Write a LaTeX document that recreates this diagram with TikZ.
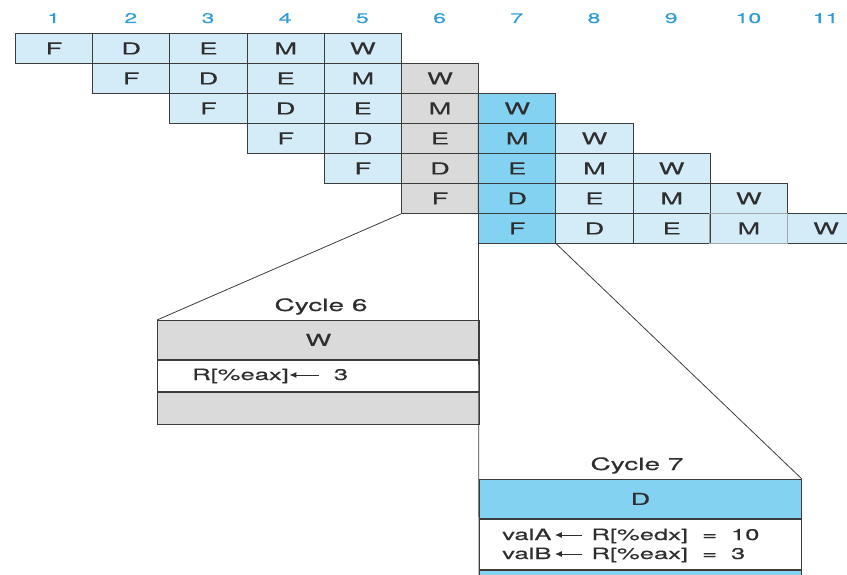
\documentclass[tikz,border=0pt]{standalone}
\usepackage{fontspec}
\setmainfont{TeX Gyre Heros}[FakeStretch=1.65,FakeBold=0.3]
\usetikzlibrary{arrows.meta}

\definecolor{cellblue}{HTML}{D4ECF8}
\definecolor{hotblue}{HTML}{84D2F2}
\definecolor{cellgray}{HTML}{DADADA}
\definecolor{numblue}{HTML}{2E9CD6}
\definecolor{edge}{HTML}{3C3C3C}
\definecolor{softedge}{HTML}{A0A8AC}
\definecolor{ink}{HTML}{2E2E2E}

% left-pointing assignment arrow used inside the stage boxes
\newcommand{\assignarrow}[1][25pt]{\tikz[baseline=-5pt]\draw[ink,line width=1pt,{Latex[length=7pt,width=6pt]}-](0pt,0pt)--(#1,0pt);}

\begin{document}
\begin{tikzpicture}[x=1pt,y=-1pt,
  stage/.style={draw=edge,line width=0.9pt,minimum width=77.2pt,minimum height=30pt,
    inner sep=0pt,font=\fontsize{16.5}{16.5}\selectfont,text=ink,anchor=north west},
  cyclenum/.style={font=\fontsize{14}{14}\selectfont,text=numblue,anchor=base,inner sep=0pt},
  caption/.style={font=\fontsize{17}{17}\selectfont,text=ink,anchor=base,inner sep=0pt},
  band/.style={draw=edge,line width=0.9pt,minimum width=322pt,inner sep=0pt,
    anchor=north west,font=\fontsize{16.5}{16.5}\selectfont,text=ink},
  body/.style={text=ink,anchor=base west,inner sep=0pt},
  link/.style={draw=edge,line width=0.8pt}]
\useasboundingbox (0,0) rectangle (847,575);

% clock cycle numbers
\foreach \c in {1,...,11}
  \node[cyclenum] (n-\c) at ({15+(\c-0.5)*77.2},23) {\c};

% pipeline stages of the seven instructions
\foreach \r in {1,...,7}{
  \foreach \s [count=\i from 0] in {F,D,E,M,W}{
    \pgfmathtruncatemacro{\c}{\r+\i}
    \ifnum\c=6 \def\fc{cellgray}\else\ifnum\c=7 \def\fc{hotblue}\else\def\fc{cellblue}\fi\fi
    \node[stage,fill=\fc] (c-\r-\c) at ({15+(\c-1)*77.2},{33+(\r-1)*30}) {\s};
  }
}
\draw[softedge,line width=0.9pt] (c-7-10.north west) rectangle (c-7-10.south east);

% cycle 6 detail
\node[caption] (cap6) at (321,311) {Cycle 6};
\node[band,fill=cellgray,minimum height=39pt] (w6) at (157,320) {W};
\node[band,fill=white,minimum height=31pt] (t6) at (w6.south west) {};
\node[band,fill=cellgray,minimum height=32pt] (b6) at (t6.south west) {};
\node[body,font=\fontsize{15.5}{15.5}\selectfont] (r6) at (192,380)
  {R[\%eax]\assignarrow[30pt]\hspace{14pt}3};

% cycle 7 detail
\node[caption] (cap7) at (637,470) {Cycle 7};
\node[band,fill=hotblue,minimum height=39pt] (d7) at (479,479) {D};
\node[band,fill=white,minimum height=50pt] (t7) at (d7.south west) {};
\node[band,fill=hotblue,minimum height=14pt] (b7) at (t7.south west) {};
\node[body,font=\fontsize{15.5}{15.5}\selectfont] (r7a) at (502,540)
  {valA\hspace{3pt}\assignarrow[27pt]\hspace{9pt}R[\%edx]\hspace{14pt}=\hspace{14pt}10};
\node[body,font=\fontsize{15.5}{15.5}\selectfont] (r7b) at (502,559)
  {valB\hspace{3pt}\assignarrow[27pt]\hspace{9pt}R[\%eax]\hspace{14pt}=\hspace{14pt}3};

% zoom lines and column divider
\coordinate (floor) at (479,580);
\draw[link] (c-3-7.north west) -- (floor);
\draw[link] (c-6-6.south west) -- (w6.north west);
\draw[link] (c-7-7.south east) -- (d7.north east);
\end{tikzpicture}
\end{document}
